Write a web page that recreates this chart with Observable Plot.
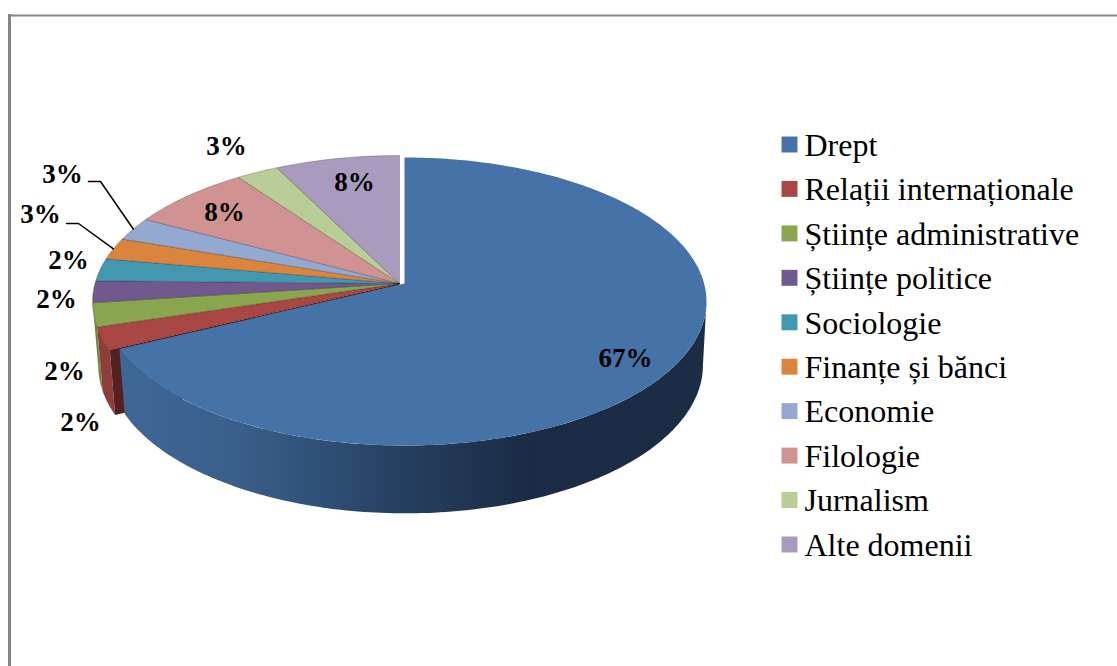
<!DOCTYPE html>
<html><head><meta charset="utf-8">
<script src="https://cdn.jsdelivr.net/npm/d3@7"></script>
<script src="https://cdn.jsdelivr.net/npm/@observablehq/plot@0.6"></script>
<style>html,body{margin:0;background:#fff}svg{display:block}</style>
</head><body><div id="chart"></div>
<script>
const categories = ["Drept","Relații internaționale","Științe administrative","Științe politice","Sociologie","Finanțe și bănci","Economie","Filologie","Jurnalism","Alte domenii"];
const shares = [67.8,2.5,2.6,2.4,2.5,2.4,2.6,7.3,2.5,7.4];
const shareLabels = ["67%","2%","2%","2%","2%","3%","3%","8%","3%","8%"];
const colors = ["#4572A7","#AA4643","#89A54E","#71588F","#4198AF","#DB843D","#93A9CF","#D19392","#B9CD96","#A99BBD"];
const labelX = [625,80,64,56,68,40,62,224,226,354];
const labelY = [358,422,371,299,260,214,174,212,146,182];
const legendY = [144,188.4,232.9,277.3,321.8,366.2,410.6,455.1,499.5,544];

const W = 1117, H = 666;
const depth = 63, bottomScaleX = 0.985, bottomScaleY = 1.03, bottomShift = 1, persp = 0.125;
const blueGeom = {cx:404, cy:283, a:299.6, c:141.75};
const restGeom = {cx:399, cy:283, a:304.5, c:144};

function pt(g, deg, bottom=false){
  const t = deg*Math.PI/180, u = Math.sin(t), v = -Math.cos(t), w = 1 - persp*v;
  return bottom
    ? {x: g.cx + bottomShift + g.a*u/w*bottomScaleX, y: g.cy + g.c*v/w*bottomScaleY + depth}
    : {x: g.cx + g.a*u/w, y: g.cy + g.c*v/w};
}
function arc(g, a0, a1, bottom=false){
  const n = Math.max(2, Math.ceil(Math.abs(a1-a0)));
  return d3.range(n+1).map(i => pt(g, a0+(a1-a0)*i/n, bottom));
}
const angles = d3.cumsum([0,...shares]).map(v => v*3.6);
const wedges = categories.map((name,i) => {
  const g = i===0 ? blueGeom : restGeom, a0 = angles[i], a1 = angles[i+1];
  const apex = {x:g.cx, y:g.cy};
  return [apex, ...arc(g,a0,a1), apex].map(p => ({...p, name}));
}).flat();
const band = (g,a0,a1) => [...arc(g,a0,a1), ...arc(g,a1,a0,true)];
const apexRest = {x:restGeom.cx,y:restGeom.cy};
const apexRestLow = {x:restGeom.cx,y:restGeom.cy+depth};
const redCut = [apexRest, pt(restGeom,angles[1]), pt(restGeom,angles[1],true), apexRestLow];
const silhouetteAngle = Math.acos(-persp)*180/Math.PI;

const midPoint = i => pt(restGeom,(angles[i]+angles[i+1])/2);
const leaders = [
  {i:5, text:[66,223], elbow:[78,223]},
  {i:6, text:[88,181], elbow:[100,181]}
].flatMap(({i,text,elbow},k) => [
  {k,x:text[0],y:text[1]},{k,x:elbow[0],y:elbow[1]},{k,...midPoint(i)}
]);
const serif = "Liberation Serif";
const legend = categories.map((name,i)=>({name,y:legendY[i]}));
const labels = categories.map((name,i)=>({t:shareLabels[i],x:labelX[i],y:labelY[i]}));

const defs = (index, scales) => {
  const ns="http://www.w3.org/2000/svg";
  const d=document.createElementNS(ns,"defs"), lg=document.createElementNS(ns,"linearGradient");
  lg.setAttribute("id","blueSide"); lg.setAttribute("gradientUnits","userSpaceOnUse");
  lg.setAttribute("x1",scales.x(120)); lg.setAttribute("x2",scales.x(706));
  lg.setAttribute("y1",0); lg.setAttribute("y2",0);
  [[0,"#3f6796"],[0.19,"#3a5f8b"],[0.31,"#31547b"],[0.48,"#263f60"],[0.7,"#1a2b43"],[1,"#1b2d45"]].forEach(([o,c])=>{
    const s=document.createElementNS(ns,"stop"); s.setAttribute("offset",o); s.setAttribute("stop-color",c); lg.appendChild(s);
  });
  d.appendChild(lg); return d;
};

const plot = Plot.plot({
  width:W, height:H, margin:0,
  x:{domain:[0,W],range:[0,W],axis:null},
  y:{domain:[0,H],range:[0,H],axis:null},
  color:{domain:categories,range:colors},
  marks:[
    defs,
    Plot.ruleX([9],{y1:14,y2:H,stroke:"#868686",strokeWidth:3}),
    Plot.ruleY([15],{x1:8,x2:W,stroke:"#868686",strokeWidth:2}),
    Plot.line(band(restGeom,angles[3],angles[2]),{x:"x",y:"y",fill:"#6d8a3f",stroke:"none"}),
    Plot.line(band(restGeom,angles[2],angles[1]),{x:"x",y:"y",fill:"#8f3d3b",stroke:"none"}),
    Plot.line(redCut,{x:"x",y:"y",fill:"#542020",stroke:"none"}),
    Plot.line(wedges.filter(d=>d.name!==categories[0]),{x:"x",y:"y",z:"name",fill:"name",stroke:"#000",strokeOpacity:0.28,strokeWidth:0.8}),
    Plot.line(band(blueGeom,silhouetteAngle,angles[1]),{x:"x",y:"y",fill:"url(#blueSide)",stroke:"none"}),
    Plot.line(wedges.filter(d=>d.name===categories[0]),{x:"x",y:"y",z:"name",fill:"name",stroke:"none"}),
    Plot.line(leaders,{x:"x",y:"y",z:"k",stroke:"#000",strokeWidth:1.5}),
    Plot.text(labels,{x:"x",y:"y",text:"t",fontFamily:serif,fontWeight:"bold",fontSize:27,fill:"#000"}),
    Plot.dot(legend,{x:()=>789,y:"y",symbol:"square",r:9,fill:"name",stroke:"none"}),
    Plot.text(legend,{x:()=>804,y:"y",dy:1,text:"name",textAnchor:"start",fontFamily:serif,fontSize:32,fill:"#000"})
  ]
});
document.getElementById("chart").appendChild(plot);
</script></body></html>
